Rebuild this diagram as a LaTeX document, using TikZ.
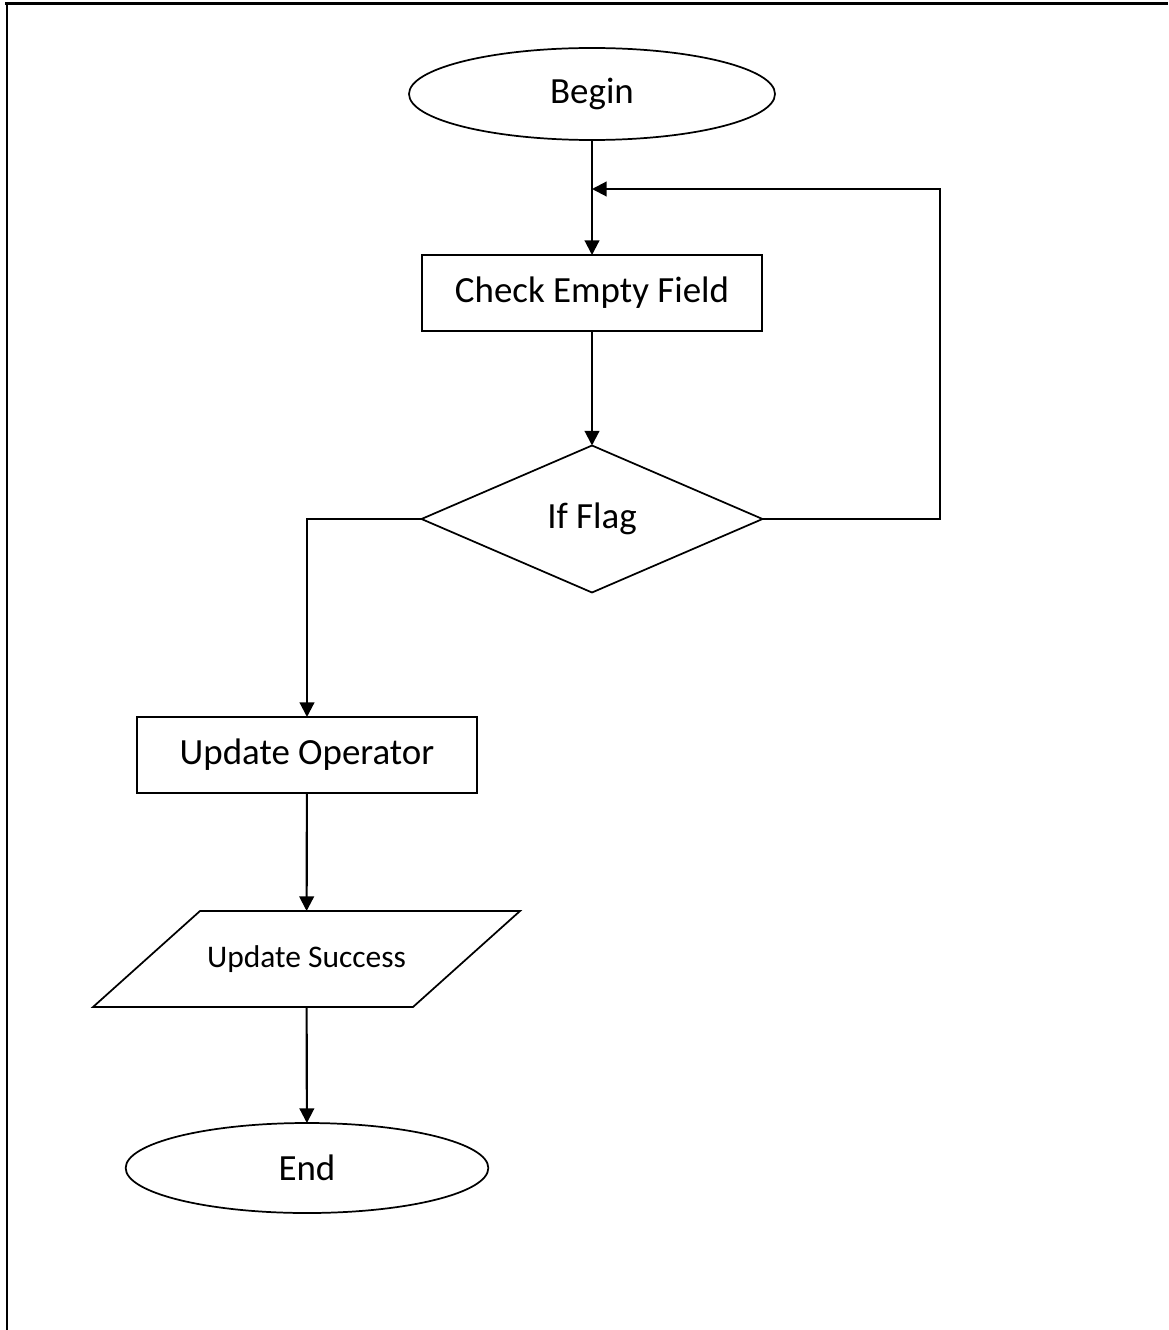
\documentclass[tikz,border=0pt]{standalone}
\usepackage{fontspec}
\setmainfont{Carlito}
\usetikzlibrary{shapes.geometric,arrows.meta,calc}

\begin{document}
\begin{tikzpicture}[x=0.75pt,y=-0.75pt,
        terminal/.style={draw, ellipse, line width=1.3pt, inner sep=0pt, outer sep=0pt, font=\fontsize{27.7}{33}\selectfont},
        process/.style={draw, rectangle, line width=1.3pt, minimum width=254.5pt, minimum height=57pt, inner sep=0pt, outer sep=0pt, font=\fontsize{27.7}{33}\selectfont},
        decision/.style={draw, diamond, line width=1.3pt, minimum width=255.75pt, minimum height=110.25pt, inner sep=0pt, outer sep=0pt, font=\fontsize{27.7}{33}\selectfont},
        io/.style={rectangle, minimum width=240pt, minimum height=72pt, inner sep=0pt, outer sep=0pt, font=\fontsize{23.6}{28}\selectfont},
        outline/.style={draw, line width=1.3pt, line join=miter},
        arr/.style={line width=1.6pt, -{Triangle[length=11pt,width=11pt]}}]
        \useasboundingbox (0,0) rectangle (1168,1330);
        % frame
        \draw[line width=1.8pt] (5,3.5) -- (1168,3.5);
        \draw[line width=1.8pt] (7,3) -- (7,1330);
        % nodes
        \node[terminal, minimum width=274.5pt, minimum height=69pt] (begin) at (592,94) {Begin};
        \node[process] (check) at (592,293) {Check Empty Field};
        \node[decision] (flag) at (592,519) {If Flag};
        \node[process] (update) at (307,755) {Update Operator};
        \node[io] (success) at (306.5,959) {Update Success};
        \draw[outline] ($(success.south west)+(-53.5,0)$) -- ($(success.north west)+(53.5,0)$)
            -- ($(success.north east)+(53.5,0)$) -- ($(success.south east)+(-53.5,0)$) -- cycle;
        \node[terminal, minimum width=272pt, minimum height=67.5pt] (stop) at (307,1168) {End};
        \coordinate (back) at (592,189);
        \coordinate (turn) at (940,189);
        % connectors
        \draw[arr] (begin) -- (check);
        \draw[arr] (check) -- (flag);
        \draw[arr] (flag.east) -| (turn) -- (back);
        \draw[arr] (flag.west) -| (update);
        \draw[arr] (update) -- (success);
        \draw[arr] (success) -- (stop);
    \end{tikzpicture}
\end{document}
